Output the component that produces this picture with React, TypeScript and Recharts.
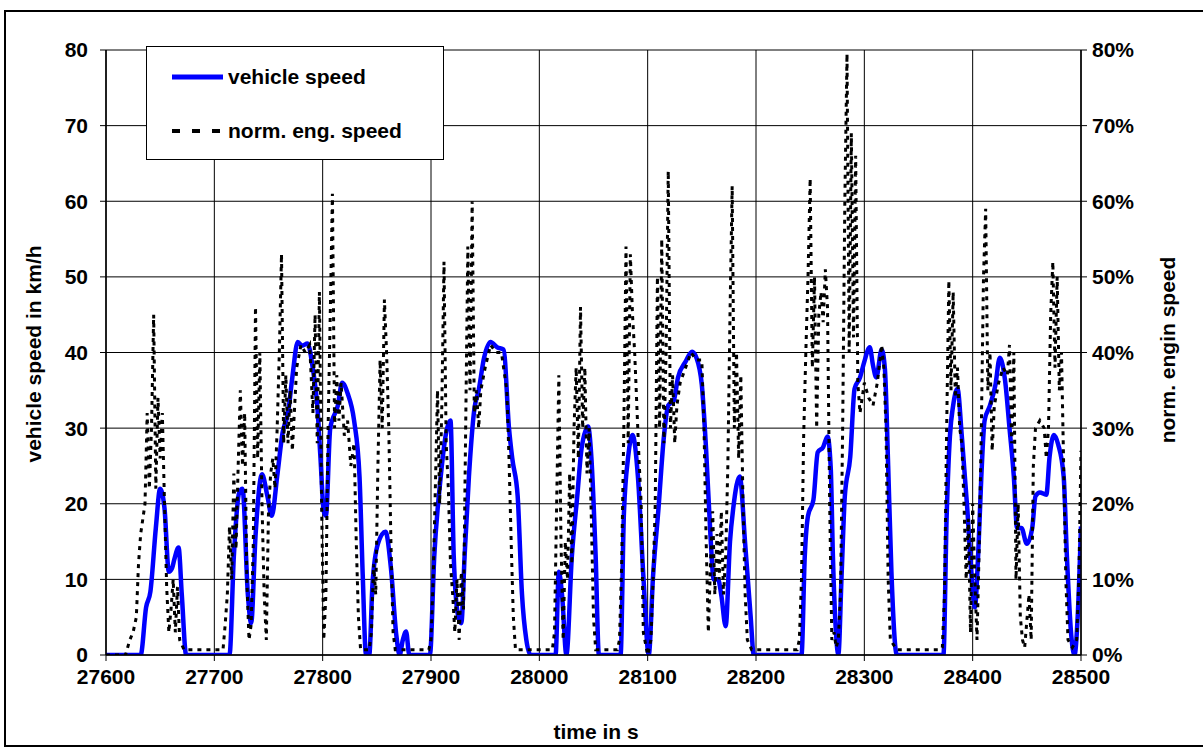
import React from 'react';
import { LineChart, Line, XAxis, YAxis, CartesianGrid } from 'recharts';

// [time in s, vehicle speed in km/h]
const vehicleSpeed: [number, number][] = [
  [27600, 0], [27632, 0], [27637, 6.3], [27641, 8.4], [27646, 16.8], [27650, 22], [27654, 19.4],
  [27658, 11], [27661, 11.5], [27663, 12.6], [27667, 14.2], [27670, 7.9], [27674, 0], [27714, 0],
  [27718, 13], [27723, 21.5], [27726, 22], [27731, 7.9], [27734, 4.2], [27738, 15.7], [27744, 23.9],
  [27749, 21], [27753, 18.4], [27758, 23.6], [27763, 29.4], [27768, 32], [27772, 36.7], [27777, 41.4],
  [27781, 40.9], [27786, 41.2], [27791, 37.8], [27795, 33], [27798, 26], [27801, 19], [27803, 18.4],
  [27807, 30], [27814, 33], [27818, 36], [27823, 34.6], [27829, 31], [27834, 23.6], [27837, 10.5],
  [27840, 0], [27843, 0], [27846, 9.4], [27851, 14.7], [27858, 16.3], [27863, 11.5], [27868, 2.6],
  [27871, 0], [27874, 2], [27877, 3.1], [27880, 0], [27899, 0], [27903, 13], [27909, 23.6],
  [27914, 29.4], [27918, 31], [27921, 13], [27925, 5.2], [27928, 4.2], [27931, 13], [27935, 23.6],
  [27940, 32.5], [27944, 35], [27949, 39.3], [27955, 41.4], [27961, 40.7], [27967, 40.4], [27972, 30],
  [27975, 26], [27980, 21], [27984, 8], [27988, 2], [27992, 0], [28015, 0], [28018, 11], [28021, 7.9],
  [28025, 0], [28030, 13], [28035, 21], [28039, 27.3], [28045, 30.2], [28048, 26.2], [28052, 13],
  [28055, 0], [28075, 0], [28078, 18.4], [28082, 26.2], [28086, 29.1], [28091, 23.6], [28096, 10.5],
  [28101, 0], [28105, 10.5], [28110, 19.4], [28115, 28.9], [28119, 33], [28124, 33.6], [28128, 36.7],
  [28135, 38.8], [28141, 40.1], [28145, 39.3], [28150, 35.7], [28154, 27], [28158, 15.7], [28161, 10],
  [28165, 10], [28168, 7.9], [28172, 3.8], [28176, 15], [28179, 19.4], [28185, 23.6], [28190, 14.7],
  [28195, 5.2], [28198, 0], [28242, 0], [28245, 13], [28248, 18.4], [28253, 20.5], [28257, 26.8],
  [28262, 27.5], [28266, 28.9], [28269, 24.7], [28271, 13], [28274, 2.6], [28276, 0], [28279, 10.5],
  [28282, 21], [28287, 26.2], [28291, 35.2], [28296, 36.7], [28300, 38.8], [28305, 40.7], [28308, 38.3],
  [28311, 36.7], [28316, 40.4], [28319, 37.8], [28322, 25], [28325, 11], [28330, 0], [28373, 0],
  [28376, 18.4], [28379, 28.9], [28382, 33], [28386, 35.2], [28390, 28.9], [28395, 19.4], [28399, 10.5],
  [28402, 6.3], [28405, 13], [28408, 23.6], [28411, 31], [28416, 33], [28421, 35.7], [28425, 39.3],
  [28430, 36.2], [28434, 30], [28438, 23.6], [28441, 16.8], [28445, 16.8], [28450, 14.7], [28455, 16.8],
  [28458, 21], [28462, 21.5], [28468, 21.2], [28471, 26.2], [28475, 29.1], [28479, 27.8], [28484, 23.6],
  [28487, 13], [28491, 2.6], [28494, 0], [28497, 5.2], [28500, 17],
];

// [time in s, normalised engine speed in %]
const engineSpeed: [number, number][] = [
  [27600, 0], [27618, 0], [27622, 2], [27625, 3], [27628, 5], [27630, 12], [27632, 16], [27634, 18],
  [27636, 20], [27638, 32], [27640, 22], [27642, 30], [27644, 45], [27646, 22], [27648, 34], [27650, 26],
  [27652, 32], [27654, 20], [27656, 9], [27658, 3], [27660, 6], [27662, 10], [27664, 3], [27666, 9],
  [27668, 2], [27672, 0.7], [27690, 0.7], [27708, 0.7],
  [27710, 4], [27712, 8], [27714, 17], [27716, 10], [27718, 24], [27720, 14], [27722, 25], [27724, 35],
  [27726, 25], [27728, 32], [27730, 10], [27732, 2], [27734, 4], [27736, 15], [27738, 46], [27740, 26],
  [27742, 40], [27744, 20], [27746, 8], [27748, 2], [27750, 19], [27752, 24], [27754, 26], [27756, 22],
  [27758, 30], [27760, 40], [27762, 53], [27764, 28], [27766, 37], [27768, 28], [27770, 35], [27772, 27],
  [27776, 38], [27780, 41], [27784, 40], [27788, 41], [27791, 32], [27793, 45], [27795, 28], [27797, 48],
  [27799, 20], [27801, 2], [27803, 8], [27805, 30], [27807, 45], [27809, 61], [27811, 30], [27813, 37],
  [27815, 31], [27817, 36], [27820, 29], [27823, 31], [27826, 25], [27829, 28], [27831, 15], [27833, 5],
  [27835, 0.7], [27843, 0.7], [27845, 3], [27847, 12], [27849, 8], [27851, 25], [27853, 39], [27855, 30],
  [27857, 47], [27859, 40], [27861, 30], [27863, 15], [27865, 3], [27867, 0.7], [27880, 0.7], [27898, 0.7],
  [27900, 2], [27902, 10], [27904, 22], [27906, 35], [27908, 20], [27910, 33], [27912, 52], [27914, 28],
  [27916, 22], [27918, 12], [27920, 8], [27922, 3], [27924, 10], [27926, 2], [27928, 11], [27930, 6],
  [27932, 30], [27934, 54], [27936, 35], [27938, 60], [27940, 32], [27942, 35], [27944, 30], [27946, 35],
  [27950, 38], [27955, 41], [27960, 40], [27965, 40], [27970, 35], [27972, 26], [27974, 15], [27976, 5],
  [27978, 0.7], [27998, 0.7], [28012, 0.7],
  [28014, 3], [28016, 20], [28018, 37], [28020, 15], [28022, 2], [28024, 15], [28026, 10], [28028, 24],
  [28030, 12], [28032, 30], [28034, 38], [28036, 26], [28038, 46], [28040, 30], [28042, 38], [28044, 24],
  [28046, 30], [28048, 18], [28050, 5], [28052, 0.7], [28072, 0.7],
  [28074, 2], [28076, 12], [28078, 30], [28080, 54], [28082, 28], [28084, 53], [28086, 45], [28088, 40],
  [28090, 33], [28092, 26], [28094, 20], [28096, 3], [28100, 0], [28103, 2], [28105, 10], [28107, 20],
  [28109, 50], [28111, 30], [28113, 55], [28115, 28], [28117, 40], [28119, 64], [28121, 30], [28123, 37],
  [28125, 28], [28127, 33], [28130, 36], [28135, 38], [28140, 40], [28145, 39], [28150, 39], [28152, 30],
  [28154, 15], [28156, 3], [28158, 12], [28160, 19], [28162, 8], [28164, 16], [28166, 10], [28168, 19],
  [28170, 8], [28172, 13], [28174, 25], [28176, 45], [28178, 62], [28180, 30], [28182, 40], [28184, 26],
  [28186, 37], [28188, 20], [28190, 8], [28192, 2], [28196, 0.7], [28238, 0.7],
  [28240, 2], [28242, 10], [28244, 29], [28246, 40], [28248, 50], [28250, 63], [28252, 38], [28254, 50],
  [28256, 30], [28258, 45], [28260, 48], [28262, 44], [28264, 51], [28266, 46], [28268, 20], [28270, 2],
  [28272, 3], [28274, 1], [28276, 2], [28278, 8], [28280, 30], [28282, 60], [28284, 79.5], [28286, 40],
  [28288, 69], [28290, 42], [28292, 66], [28294, 36], [28296, 32], [28300, 36], [28304, 34], [28308, 33],
  [28312, 36], [28316, 41], [28318, 38], [28320, 30], [28322, 10], [28324, 2], [28330, 0.7], [28370, 0.7],
  [28372, 1], [28374, 8], [28376, 30], [28378, 49.5], [28380, 35], [28382, 48], [28384, 34], [28386, 38],
  [28388, 30], [28390, 28], [28392, 20], [28394, 10], [28396, 18], [28398, 3], [28400, 20], [28402, 10],
  [28404, 2], [28406, 14], [28408, 30], [28410, 50], [28412, 59], [28414, 35], [28416, 40], [28418, 27],
  [28420, 33], [28424, 36], [28428, 38], [28432, 37], [28434, 41], [28436, 28], [28438, 40], [28440, 10],
  [28442, 20], [28444, 5], [28446, 2], [28448, 1], [28452, 8], [28454, 2], [28456, 25], [28458, 30],
  [28462, 31], [28466, 30], [28468, 26], [28470, 30], [28472, 45], [28474, 52], [28476, 38], [28478, 50],
  [28480, 35], [28482, 40], [28484, 25], [28486, 10], [28488, 2], [28492, 1], [28496, 2], [28498, 10],
  [28500, 27],
];

const timeTicks = [27600, 27700, 27800, 27900, 28000, 28100, 28200, 28300, 28400, 28500];
const timeMinorTicks = [
  27600, 27650, 27700, 27750, 27800, 27850, 27900, 27950, 28000, 28050,
  28100, 28150, 28200, 28250, 28300, 28350, 28400, 28450, 28500,
];
const speedTicks = [0, 10, 20, 30, 40, 50, 60, 70, 80];
const speedMinorTicks = [
  0, 2, 4, 6, 8, 10, 12, 14, 16, 18, 20, 22, 24, 26, 28, 30, 32, 34, 36, 38, 40,
  42, 44, 46, 48, 50, 52, 54, 56, 58, 60, 62, 64, 66, 68, 70, 72, 74, 76, 78, 80,
];
const engineTicks = [0, 10, 20, 30, 40, 50, 60, 70, 80];
const engineMinorTicks = [0, 5, 10, 15, 20, 25, 30, 35, 40, 45, 50, 55, 60, 65, 70, 75, 80];

const vehicleData = vehicleSpeed.map(([t, v]) => ({ t, v }));
const engineData = engineSpeed.map(([t, v]) => ({ t, v }));

const FONT = '"Liberation Sans", Arial, sans-serif';
const tickStyle = { fill: '#000', fontSize: 21, fontWeight: 700, fontFamily: FONT };
const titleStyle: React.CSSProperties = {
  position: 'absolute',
  fontFamily: FONT,
  fontWeight: 700,
  fontSize: 21,
  color: '#000',
  whiteSpace: 'nowrap',
  transform: 'translate(-50%, -50%)',
};

const App: React.FC = () => {
  return (
    <div style={{ position: 'absolute', left: 0, top: 0, width: 1203, height: 751, overflow: 'hidden', background: '#fff' }}>
      <div
        style={{
          position: 'absolute',
          left: 4,
          top: 10,
          width: 1220,
          height: 737,
          border: '2px solid #000',
          boxSizing: 'border-box',
        }}
      />
      <div style={{ position: 'absolute', left: 0, top: 0 }}>
        <LineChart width={1203} height={751} margin={{ top: 50, right: 52, bottom: 56, left: 46 }}>
          <CartesianGrid yAxisId="left" stroke="#000" strokeWidth={1} />
          <XAxis
            dataKey="t"
            type="number"
            domain={[27600, 28500]}
            ticks={timeTicks}
            interval={0}
            height={40}
            tickSize={6}
            tickMargin={8}
            tick={tickStyle}
            axisLine={{ stroke: '#000', strokeWidth: 1.5 }}
            tickLine={{ stroke: '#000' }}
            allowDataOverflow
          />
          <XAxis
            xAxisId="minor"
            dataKey="t"
            type="number"
            domain={[27600, 28500]}
            ticks={timeMinorTicks}
            interval={0}
            mirror
            tick={false}
            tickSize={6}
            axisLine={false}
            tickLine={{ stroke: '#000' }}
            allowDataOverflow
          />
          <YAxis
            yAxisId="left"
            domain={[0, 80]}
            ticks={speedTicks}
            interval={0}
            width={60}
            tickSize={6}
            tickMargin={12}
            tick={tickStyle}
            axisLine={{ stroke: '#000', strokeWidth: 1.5 }}
            tickLine={{ stroke: '#000' }}
            allowDataOverflow
          />
          <YAxis
            yAxisId="leftMinor"
            domain={[0, 80]}
            ticks={speedMinorTicks}
            interval={0}
            mirror
            tick={false}
            tickSize={5}
            axisLine={false}
            tickLine={{ stroke: '#000' }}
            allowDataOverflow
          />
          <YAxis
            yAxisId="right"
            orientation="right"
            domain={[0, 80]}
            ticks={engineTicks}
            interval={0}
            width={70}
            tickSize={6}
            tickMargin={5}
            tick={tickStyle}
            tickFormatter={(v: number) => `${v}%`}
            axisLine={{ stroke: '#000', strokeWidth: 1.5 }}
            tickLine={{ stroke: '#000' }}
            allowDataOverflow
          />
          <YAxis
            yAxisId="rightMinor"
            orientation="right"
            domain={[0, 80]}
            ticks={engineMinorTicks}
            interval={0}
            mirror
            tick={false}
            tickSize={7}
            axisLine={false}
            tickLine={{ stroke: '#000' }}
            allowDataOverflow
          />
          <Line
            yAxisId="left"
            data={vehicleData}
            dataKey="v"
            type="monotone"
            stroke="#0000FF"
            strokeWidth={4.5}
            dot={false}
            isAnimationActive={false}
          />
          <Line
            yAxisId="right"
            data={engineData}
            dataKey="v"
            type="linear"
            stroke="#000"
            strokeWidth={3}
            strokeDasharray="4 5"
            dot={false}
            isAnimationActive={false}
          />
        </LineChart>
      </div>

      {/* legend box */}
      <div
        style={{
          position: 'absolute',
          left: 146,
          top: 46,
          width: 298,
          height: 114,
          background: '#fff',
          border: '1px solid #000',
          boxSizing: 'border-box',
        }}
      >
        <svg width={298} height={114} style={{ position: 'absolute', left: -1, top: -1 }}>
          <line x1={26} y1={31} x2={77} y2={31} stroke="#0000FF" strokeWidth={5} />
          <line x1={26} y1={85} x2={76} y2={85} stroke="#000" strokeWidth={4} strokeDasharray="8 12" />
        </svg>
        <div style={{ ...titleStyle, transform: 'translate(0, -50%)', left: 81, top: 30 }}>vehicle speed</div>
        <div style={{ ...titleStyle, transform: 'translate(0, -50%)', left: 81, top: 84 }}>norm. eng. speed</div>
      </div>

      <div style={{ ...titleStyle, left: 34, top: 354, transform: 'translate(-50%, -50%) rotate(-90deg)' }}>
        vehicle speed in km/h
      </div>
      <div style={{ ...titleStyle, left: 1168, top: 350, transform: 'translate(-50%, -50%) rotate(-90deg)' }}>
        norm. engin speed
      </div>
      <div style={{ ...titleStyle, left: 596, top: 732 }}>time in s</div>
    </div>
  );
};

export default App;
